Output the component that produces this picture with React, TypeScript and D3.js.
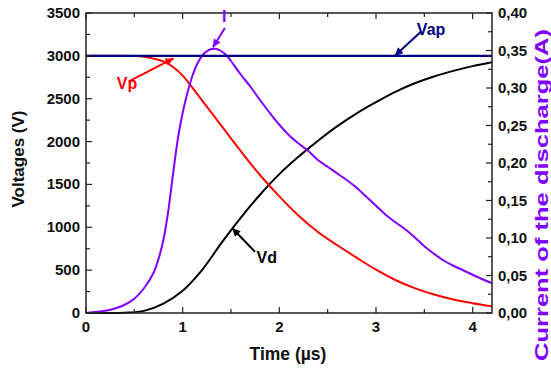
import React from 'react';
import * as d3 from 'd3';

// ---- data ----
const timeTicks = [0, 1, 2, 3, 4];
const timeMinor = [0.5, 1.5, 2.5, 3.5];
const voltTicks = [0, 500, 1000, 1500, 2000, 2500, 3000, 3500];
const voltMinor = [250, 750, 1250, 1750, 2250, 2750, 3250];
const curTicks = [0, 0.05, 0.1, 0.15, 0.2, 0.25, 0.3, 0.35, 0.4];
const curTickLabels = ['0,00', '0,05', '0,10', '0,15', '0,20', '0,25', '0,30', '0,35', '0,40'];
const curMinor = [0.025, 0.075, 0.125, 0.175, 0.225, 0.275, 0.325, 0.375];

const vapTime = [0, 4.2];
const vapValues = [3000, 3000];

const vpTime = [0, 0.3, 0.5, 0.6, 0.7, 0.8, 0.9, 1.0, 1.1, 1.2, 1.4, 1.6, 1.8, 2.0, 2.2, 2.4, 2.6, 2.8, 3.0, 3.2, 3.4, 3.6, 3.8, 4.0, 4.2];
const vpValues = [3000, 3000, 2998, 2990, 2968, 2935, 2870, 2770, 2630, 2480, 2185, 1890, 1610, 1360, 1135, 945, 790, 645, 505, 385, 290, 215, 158, 115, 78];

const vdTime = [0, 0.2, 0.4, 0.6, 0.8, 1.0, 1.2, 1.4, 1.6, 1.8, 2.0, 2.2, 2.4, 2.6, 2.8, 3.0, 3.2, 3.4, 3.6, 3.8, 4.0, 4.2];
const vdValues = [0, 0, 3, 25, 110, 260, 500, 815, 1110, 1380, 1620, 1825, 2010, 2180, 2330, 2460, 2580, 2680, 2760, 2825, 2880, 2925];

const iTime = [0, 0.2, 0.3, 0.4, 0.5, 0.6, 0.7, 0.75, 0.8, 0.85, 0.9, 0.95, 1.0, 1.05, 1.1, 1.15, 1.2, 1.25, 1.3, 1.35, 1.4, 1.45, 1.5, 1.6, 1.7, 1.8, 1.9, 2.0, 2.1, 2.2, 2.3, 2.4, 2.5, 2.6, 2.7, 2.8, 2.9, 3.0, 3.1, 3.2, 3.3, 3.4, 3.5, 3.6, 3.7, 3.8, 3.9, 4.0, 4.1, 4.2];
const iValues = [0, 0.003, 0.006, 0.011, 0.019, 0.033, 0.054, 0.072, 0.097, 0.135, 0.185, 0.232, 0.267, 0.294, 0.316, 0.332, 0.343, 0.349, 0.352, 0.352, 0.349, 0.344, 0.336, 0.318, 0.302, 0.284, 0.267, 0.251, 0.237, 0.226, 0.216, 0.204, 0.195, 0.186, 0.177, 0.167, 0.155, 0.143, 0.131, 0.121, 0.112, 0.101, 0.089, 0.079, 0.070, 0.063, 0.057, 0.051, 0.045, 0.040];

// annotations in data space
const annotLabels = ['Vp', 'I', 'Vap', 'Vd'];
const annotColors = ['#ff0000', '#8000ff', '#000080', '#000000'];
const annotLabelPos = [[0.424, 2610], [1.43, 3400], [3.57, 3240], [1.87, 585]];
const annotTail = [[0.448, 2705], [1.437, 3325], [3.47, 3287], [1.748, 715]];
const annotTip = [[0.905, 2970], [1.313, 3100], [3.195, 3002], [1.513, 988]];

const W = 551, H = 371;
const L = 86, R = 492, T = 13, B = 313;
const FONT = 'Arial, "Liberation Sans", sans-serif';

export default function App() {
  const x = d3.scaleLinear().domain([0, 4.2]).range([L, R]);
  const yV = d3.scaleLinear().domain([0, 3500]).range([B, T]);
  const yI = d3.scaleLinear().domain([0, 0.4]).range([B, T]);

  const curve = d3.curveCatmullRom.alpha(0.5);
  const lineV = (ts: number[], vs: number[]) =>
    d3.line<number>().x((d, i) => x(ts[i])).y((d) => yV(d)).curve(curve)(vs) || '';
  const lineI = d3.line<number>().x((d, i) => x(iTime[i])).y((d) => yI(d)).curve(curve)(iValues) || '';

  const axisColor = '#222';
  const tickLbl = { fontFamily: FONT, fontWeight: 700, fontSize: 15, fill: '#111' } as const;

  return (
    <svg width={W} height={H} style={{ position: 'absolute', left: 0, top: 0, background: '#fff' }}>
      <defs>
        {annotColors.map((c, i) => (
          <marker key={i} id={`arr${i}`} viewBox="0 0 10 10" refX="10" refY="5" markerWidth="11" markerHeight="8"
            markerUnits="userSpaceOnUse" orient="auto">
            <path d="M0,0 L10,5 L0,10 z" fill={c} />
          </marker>
        ))}
        <clipPath id="plot"><rect x={L} y={T - 2} width={R - L} height={B - T + 4} /></clipPath>
      </defs>
      <rect width={W} height={H} fill="#fff" />

      {/* curves */}
      <g clipPath="url(#plot)" fill="none" strokeWidth={2}>
        <path d={lineV(vdTime, vdValues)} stroke="#000" />
        <path d={lineV(vpTime, vpValues)} stroke="#ff0000" />
        <path d={lineI} stroke="#8000ff" />
        <path d={lineV(vapTime, vapValues)} stroke="#000080" strokeWidth={2.2} />
      </g>

      {/* frame */}
      <rect x={L} y={T} width={R - L} height={B - T} fill="none" stroke={axisColor} strokeWidth={1.5} />

      {/* bottom & top ticks */}
      {timeTicks.map((t) => (
        <g key={'bt' + t}>
          <line x1={x(t)} x2={x(t)} y1={B} y2={B - 6} stroke={axisColor} strokeWidth={1.2} />
          <line x1={x(t)} x2={x(t)} y1={T} y2={T + 6} stroke={axisColor} strokeWidth={1.2} />
          <text x={x(t)} y={332} textAnchor="middle" {...tickLbl}>{t}</text>
        </g>
      ))}
      {timeMinor.map((t) => (
        <g key={'bm' + t}>
          <line x1={x(t)} x2={x(t)} y1={B} y2={B - 4} stroke={axisColor} strokeWidth={1.2} />
          <line x1={x(t)} x2={x(t)} y1={T} y2={T + 4} stroke={axisColor} strokeWidth={1.2} />
        </g>
      ))}

      {/* left ticks */}
      {voltTicks.map((v) => (
        <g key={'lv' + v}>
          <line x1={L} x2={L + 6} y1={yV(v)} y2={yV(v)} stroke={axisColor} strokeWidth={1.2} />
          <text x={80} y={yV(v) + 5} textAnchor="end" {...tickLbl}>{v}</text>
        </g>
      ))}
      {voltMinor.map((v) => (
        <line key={'lm' + v} x1={L} x2={L + 4} y1={yV(v)} y2={yV(v)} stroke={axisColor} strokeWidth={1.2} />
      ))}

      {/* right ticks */}
      {curTicks.map((c, i) => (
        <g key={'rc' + i}>
          <line x1={R} x2={R - 6} y1={yI(c)} y2={yI(c)} stroke={axisColor} strokeWidth={1.2} />
          <text x={498} y={yI(c) + 5} textAnchor="start" {...tickLbl}>{curTickLabels[i]}</text>
        </g>
      ))}
      {curMinor.map((c, i) => (
        <line key={'rm' + i} x1={R} x2={R - 4} y1={yI(c)} y2={yI(c)} stroke={axisColor} strokeWidth={1.2} />
      ))}

      {/* axis titles */}
      <text x={288} y={360} textAnchor="middle" fontFamily={FONT} fontWeight={700} fontSize={17.5} fill="#111">Time (µs)</text>
      <text transform={`translate(24,${(T + B) / 2 - 4}) rotate(-90)`} textAnchor="middle" fontFamily={FONT} fontWeight={700} fontSize={17} fill="#111">Voltages (V)</text>
      <text transform={`translate(548,${195}) rotate(-90)`} textAnchor="middle" fontFamily={FONT} fontWeight={700} fontSize={18}
        textLength={332} lengthAdjust="spacingAndGlyphs" fill="#8000ff">Current of the discharge(A)</text>

      {/* annotations */}
      {annotLabels.map((lbl, i) => (
        <g key={'an' + i}>
          <line x1={x(annotTail[i][0])} y1={yV(annotTail[i][1])} x2={x(annotTip[i][0])} y2={yV(annotTip[i][1])}
            stroke={annotColors[i]} strokeWidth={2} markerEnd={`url(#arr${i})`} />
          <text x={x(annotLabelPos[i][0])} y={yV(annotLabelPos[i][1])} textAnchor="middle" fontFamily={FONT}
            fontWeight={700} fontSize={16} fill={annotColors[i]}>{lbl}</text>
        </g>
      ))}
    </svg>
  );
}
